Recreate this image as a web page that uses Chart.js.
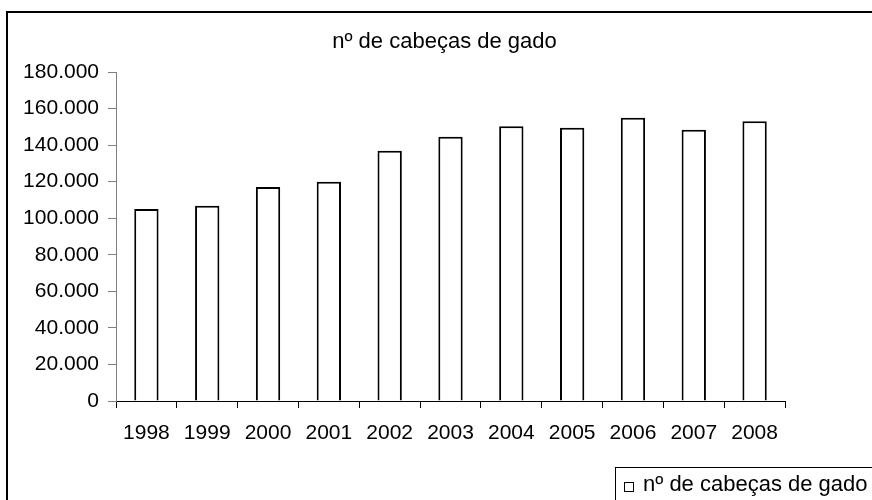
<!DOCTYPE html>
<html>
<head>
<meta charset="utf-8">
<script src="https://cdn.jsdelivr.net/npm/chart.js@4/dist/chart.umd.min.js"></script>
<style>
  body { margin: 0; background: #fff; }
</style>
</head>
<body>
<canvas id="myChart" width="872" height="500"></canvas>
<script>
// data
var anos = ['1998','1999','2000','2001','2002','2003','2004','2005','2006','2007','2008'];
var cabecas = [105000, 106800, 117100, 120000, 136900, 144600, 150300, 149500, 155000, 148400, 153000];
var serieNome = 'nº de cabeças de gado';
var tituloTexto = 'nº de cabeças de gado';

Chart.defaults.font.family = "'Liberation Sans', Arial, sans-serif";
Chart.defaults.color = '#000';

// dot as thousands separator, like the original sheet
function milhares(v){
  return String(v).replace(/\B(?=(\d{3})+(?!\d))/g, '.');
}

// white page, outer frame, title and the boxed legend at the bottom right
var moldura = {
  id: 'moldura',
  beforeDraw: function(chart){
    var ctx = chart.ctx;
    ctx.save();
    ctx.fillStyle = '#fff';
    ctx.fillRect(0, 0, chart.width, chart.height);
    ctx.restore();
  },
  afterDraw: function(chart){
    var ctx = chart.ctx;
    ctx.save();
    ctx.strokeStyle = '#000';
    ctx.lineWidth = 2;
    ctx.strokeRect(7, 12, 1000, 1000);
    // title (not centred on the plot in the original)
    ctx.fillStyle = '#000';
    ctx.font = "22px 'Liberation Sans', Arial, sans-serif";
    ctx.textAlign = 'center';
    ctx.textBaseline = 'middle';
    ctx.fillText(tituloTexto, 444.5, 42);
    // legend box
    ctx.lineWidth = 1;
    ctx.strokeRect(615.5, 467.5, 400, 100);
    ctx.fillStyle = '#fff';
    ctx.fillRect(624.5, 482.5, 9, 9);
    ctx.strokeRect(624.5, 482.5, 9, 9);
    ctx.fillStyle = '#000';
    ctx.textBaseline = 'alphabetic';
    ctx.textAlign = 'left';
    ctx.fillText(chart.data.datasets[0].label, 643, 491);
    ctx.restore();
  }
};

var data = {
  labels: anos,
  datasets: [{
    label: serieNome,
    data: cabecas,
    backgroundColor: '#fff',
    borderColor: '#000',
    borderWidth: 2,
    barPercentage: 0.4,
    categoryPercentage: 1.0
  }]
};

var config = {
  type: 'bar',
  data: data,
  options: {
    responsive: false,
    animation: false,
    layout: { padding: { left: 17, top: 72, right: 87, bottom: 0 } },
    plugins: {
      legend: { display: false },
      tooltip: { enabled: false },
      title: { display: false }
    },
    scales: {
      x: {
        grid: { display: true, drawOnChartArea: false, offset: true, tickLength: 7, color: '#000' },
        border: { color: '#000', width: 1 },
        ticks: { font: { size: 21 }, padding: 13, maxRotation: 0, color: '#000' },
        afterFit: function(scale){ scale.height = 99; }
      },
      y: {
        min: 0,
        max: 180000,
        grid: { drawOnChartArea: false, tickLength: 8, color: '#808080' },
        border: { color: '#808080', width: 1 },
        ticks: {
          stepSize: 20000,
          font: { size: 21 },
          padding: 9,
          color: '#000',
          callback: function(v){ return milhares(v); }
        },
        afterFit: function(scale){ scale.width = 99; }
      }
    }
  },
  plugins: [moldura]
};

var myChart = new Chart(document.getElementById('myChart'), config);
</script>
</body>
</html>
